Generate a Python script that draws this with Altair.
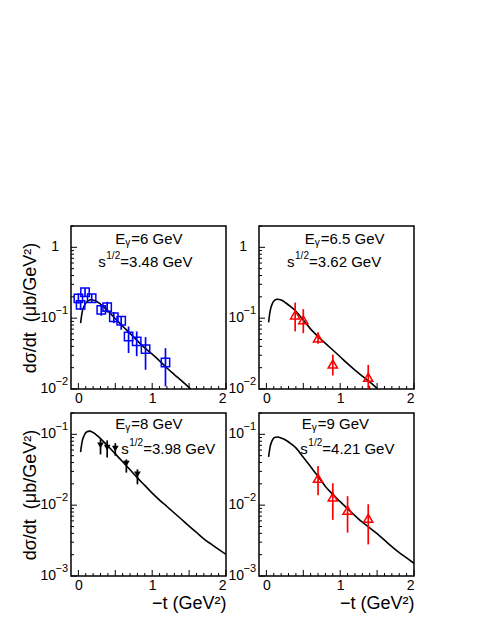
import altair as alt
import pandas as pd

FONT = "Liberation Sans"
W, H = 155, 163

# ---------------- data ----------------
# Panel E=6 GeV (blue open squares)
t_6 = [0.00, 0.03, 0.09, 0.18, 0.31, 0.39, 0.48, 0.58, 0.68, 0.79, 0.91, 1.18]
v_6 = [0.19, 0.154, 0.232, 0.191, 0.131, 0.143, 0.103, 0.092, 0.055, 0.047, 0.0366, 0.0237]
lo_6 = [0.16, 0.13, 0.20, 0.165, 0.108, 0.12, 0.085, 0.0685, 0.0322, 0.029, 0.0187, 0.0109]
hi_6 = [0.225, 0.18, 0.265, 0.22, 0.149, 0.17, 0.122, 0.105, 0.0762, 0.065, 0.054, 0.0377]
ct_6 = [0.03, 0.05, 0.08, 0.12, 0.17, 0.22, 0.3, 0.4, 0.5, 0.6, 0.7, 0.8, 0.9, 1.0, 1.1, 1.2, 1.3, 1.4, 1.52]
cv_6 = [0.085, 0.12, 0.15, 0.172, 0.182, 0.178, 0.158, 0.127, 0.098, 0.077, 0.061, 0.048, 0.038, 0.031,
        0.025, 0.0198, 0.016, 0.013, 0.0100]

# Panel E=6.5 GeV (red open triangles)
t_65 = [0.39, 0.50, 0.70, 0.90, 1.38]
v_65 = [0.111, 0.0946, 0.0523, 0.0225, 0.0146]
lo_65 = [0.065, 0.0614, 0.0434, 0.0155, 0.0100]
hi_65 = [0.166, 0.134, 0.0635, 0.0305, 0.0219]
ct_65 = [0.03, 0.05, 0.08, 0.11, 0.15, 0.2, 0.26, 0.33, 0.4, 0.5, 0.6, 0.7, 0.8, 0.9, 1.0, 1.1, 1.2, 1.3, 1.4, 1.5]
cv_65 = [0.087, 0.125, 0.16, 0.178, 0.185, 0.18, 0.165, 0.145, 0.125, 0.094, 0.070, 0.055, 0.044, 0.0355,
         0.0285, 0.0228, 0.0185, 0.0152, 0.0126, 0.0102]

# Panel E=8 GeV (black filled down triangles)
t_8 = [0.30, 0.39, 0.50, 0.65, 0.80]
v_8 = [0.070, 0.065, 0.063, 0.0385, 0.0272]
lo_8 = [0.052, 0.047, 0.050, 0.0288, 0.0197]
hi_8 = [0.085, 0.082, 0.075, 0.0443, 0.032]
ct_8 = [0.03, 0.05, 0.08, 0.11, 0.15, 0.2, 0.26, 0.33, 0.4, 0.5, 0.6, 0.7, 0.8, 0.9, 1.0, 1.1, 1.2, 1.3,
        1.4, 1.5, 1.6, 1.7, 1.8, 1.9, 2.0]
cv_8 = [0.056, 0.078, 0.097, 0.108, 0.111, 0.106, 0.095, 0.081, 0.0685, 0.053, 0.041, 0.0316, 0.0243, 0.019,
        0.0148, 0.0118, 0.00957, 0.00775, 0.00627, 0.00507, 0.00412, 0.00335, 0.00281, 0.00238, 0.00202]

# Panel E=9 GeV (red open triangles)
t_9 = [0.70, 0.90, 1.10, 1.38]
v_9 = [0.0239, 0.0130, 0.00845, 0.00652]
lo_9 = [0.0138, 0.0062, 0.00409, 0.00279]
hi_9 = [0.0357, 0.0204, 0.0134, 0.0103]
ct_9 = [0.03, 0.05, 0.08, 0.11, 0.15, 0.2, 0.26, 0.33, 0.4, 0.5, 0.6, 0.7, 0.8, 0.9, 1.0, 1.1, 1.2, 1.3,
        1.4, 1.5, 1.6, 1.7, 1.8, 1.9, 2.0]
cv_9 = [0.048, 0.066, 0.082, 0.090, 0.0915, 0.089, 0.083, 0.074, 0.0643, 0.0473, 0.0349, 0.0254, 0.0184,
        0.0142, 0.0112, 0.00889, 0.00712, 0.00574, 0.00478, 0.00397, 0.00321, 0.0026, 0.00214, 0.0018, 0.00151]

# annotation text and anchors (data coordinates)
labels_E = ["6", "6.5", "8", "9"]
labels_s = ["3.48", "3.62", "3.98", "4.21"]
anchor_E = [(0.50, 1.31), (0.52, 1.31), (0.50, 0.138), (0.48, 0.138)]
anchor_s = [(0.27, 0.62), (0.28, 0.62), (0.58, 0.0614), (0.46, 0.0614)]

# axis tick values and labels
x_major = [0, 0.5, 1, 1.5, 2]
x_minor = [0.1, 0.2, 0.3, 0.4, 0.6, 0.7, 0.8, 0.9, 1.1, 1.2, 1.3, 1.4, 1.6, 1.7, 1.8, 1.9]
mant = [2, 3, 4, 5, 6, 7, 8, 9]
top_dom = [0.01, 2.0]
bot_dom = [0.001, 0.2]
top_major = [1, 0.1, 0.01]
bot_major = [0.1, 0.01, 0.001]
top_base = ["1", "10", "10"]
top_exp = ["", "\u22121", "\u22122"]
bot_base = ["10", "10", "10"]
bot_exp = ["\u22121", "\u22122", "\u22123"]
top_minor = [m * d for d in [0.01, 0.1] for m in mant] + [2.0]
bot_minor = [m * d for d in [0.001, 0.01] for m in mant] + [0.2]

BLUE = "#0000ff"
RED = "#ff0000"
BLACK = "#000000"


def xs():
    return alt.Scale(domain=[-0.1, 2.0], nice=False, zero=False)


def ys(dom):
    return alt.Scale(type="log", domain=dom, nice=False)


def panel(t, v, lo, hi, ct, cv, shape, color, filled, size, dom, ymaj, ybase, yexp, ymin, eg, sq, aE, aS,
          show_xtitle, show_ytitle):
    xaxis = alt.Axis(values=x_major, format=".1~f", ticks=False, domain=False, grid=False,
                     labelFont=FONT, labelFontSize=14, labelPadding=2, labelColor="black",
                     title="\u2212t (GeV\u00b2)" if show_xtitle else None,
                     titleFont=FONT, titleFontSize=18, titleFontWeight="normal",
                     titleAnchor="end", titlePadding=2, titleColor="black")
    yaxis = alt.Axis(values=ymaj, labels=False, ticks=False, domain=False, grid=False,
                     title="d\u03c3/dt\u00a0\u00a0(\u03bcb/GeV\u00b2)" if show_ytitle else None,
                     titleFont=FONT, titleFontSize=18, titleFontWeight="normal",
                     titleX=-41, titleY=H / 2, titleAngle=270, titleAlign="center",
                     titleBaseline="middle", titleColor="black")

    curve_df = pd.DataFrame({"t": ct, "v": cv})
    pts_df = pd.DataFrame({"t": t, "v": v, "lo": lo, "hi": hi})
    ylab_df = pd.DataFrame({"v": ymaj, "base": ybase, "exp": yexp})

    curve = alt.Chart(curve_df).mark_line(color="black", strokeWidth=1.6, clip=True,
                                          interpolate="monotone").encode(
        x=alt.X("t:Q", scale=xs(), axis=xaxis),
        y=alt.Y("v:Q", scale=ys(dom), axis=yaxis),
    )
    err = alt.Chart(pts_df).mark_rule(color=color, strokeWidth=1.7, clip=True).encode(
        x=alt.X("t:Q", scale=xs()),
        y=alt.Y("lo:Q", scale=ys(dom)),
        y2="hi:Q",
    )
    pts = alt.Chart(pts_df).mark_point(shape=shape, filled=filled, size=size, color=color,
                                       strokeWidth=1.5, opacity=1, fillOpacity=1).encode(
        x=alt.X("t:Q", scale=xs()),
        y=alt.Y("v:Q", scale=ys(dom)),
    )

    xmaj = alt.Chart(pd.DataFrame({"t": x_major})).mark_rule(color="black", strokeWidth=1).encode(
        x=alt.X("t:Q", scale=xs()), y=alt.value(H), y2=alt.value(H - 6))
    xmin = alt.Chart(pd.DataFrame({"t": x_minor})).mark_rule(color="black", strokeWidth=1).encode(
        x=alt.X("t:Q", scale=xs()), y=alt.value(H), y2=alt.value(H - 3))
    ymj = alt.Chart(pd.DataFrame({"v": ymaj})).mark_rule(color="black", strokeWidth=1).encode(
        y=alt.Y("v:Q", scale=ys(dom)), x=alt.value(0), x2=alt.value(6))
    ymn = alt.Chart(pd.DataFrame({"v": ymin})).mark_rule(color="black", strokeWidth=1).encode(
        y=alt.Y("v:Q", scale=ys(dom)), x=alt.value(0), x2=alt.value(3))

    ylab_base10 = alt.Chart(ylab_df).transform_filter("datum.exp != ''").mark_text(
        align="right", baseline="middle", font=FONT, fontSize=14, color="black"
    ).encode(y=alt.Y("v:Q", scale=ys(dom)), x=alt.value(-15), text="base:N")
    ylab_base1 = alt.Chart(ylab_df).transform_filter("datum.exp == ''").mark_text(
        align="right", baseline="middle", font=FONT, fontSize=14, color="black"
    ).encode(y=alt.Y("v:Q", scale=ys(dom)), x=alt.value(-12), text="base:N")
    ylab_exp = alt.Chart(ylab_df).transform_filter("datum.exp != ''").mark_text(
        align="right", baseline="middle", font=FONT, fontSize=11, color="black", dy=-7
    ).encode(y=alt.Y("v:Q", scale=ys(dom)), x=alt.value(-3), text="exp:N")

    def txt(anchor, s, dx, dy, fs):
        return alt.Chart(pd.DataFrame({"t": [anchor[0]], "v": [anchor[1]]})).mark_text(
            align="left", baseline="middle", font=FONT, fontSize=fs, dx=dx, dy=dy, color="black"
        ).encode(x=alt.X("t:Q", scale=xs()), y=alt.Y("v:Q", scale=ys(dom)), text=alt.value(s))

    texts = [
        txt(aE, "E", 0, 0, 15),
        txt(aE, "\u03b3", 10, 4, 10),
        txt(aE, "=" + eg + " GeV", 16, 0, 15),
        txt(aS, "s", 0, 0, 15),
        txt(aS, "1/2", 8, -6, 10),
        txt(aS, "=" + sq + " GeV", 22, 0, 15),
    ]

    return alt.layer(curve, err, pts, xmaj, xmin, ymj, ymn, ylab_base10, ylab_base1, ylab_exp,
                     *texts).properties(width=W, height=H)


p1 = panel(t_6, v_6, lo_6, hi_6, ct_6, cv_6, "square", BLUE, False, 70, top_dom, top_major, top_base,
           top_exp, top_minor, labels_E[0], labels_s[0], anchor_E[0], anchor_s[0], False, True)
p2 = panel(t_65, v_65, lo_65, hi_65, ct_65, cv_65, "triangle-up", RED, False, 85, top_dom, top_major,
           top_base, top_exp, top_minor, labels_E[1], labels_s[1], anchor_E[1], anchor_s[1], False, False)
p3 = panel(t_8, v_8, lo_8, hi_8, ct_8, cv_8, "triangle-down", BLACK, True, 45, bot_dom, bot_major,
           bot_base, bot_exp, bot_minor, labels_E[2], labels_s[2], anchor_E[2], anchor_s[2], True, True)
p4 = panel(t_9, v_9, lo_9, hi_9, ct_9, cv_9, "triangle-up", RED, False, 85, bot_dom, bot_major,
           bot_base, bot_exp, bot_minor, labels_E[3], labels_s[3], anchor_E[3], anchor_s[3], True, False)

chart = alt.concat(p1, p2, p3, p4, columns=2, spacing={"row": 24, "column": 33}, bounds="flush",
                   align="all").properties(
    padding={"left": 12, "top": 216, "right": 5, "bottom": 5},
    background="white",
).configure_view(stroke="black", strokeWidth=1.5)

chart.save("out.html", embed_options={"renderer": "svg", "actions": False})
